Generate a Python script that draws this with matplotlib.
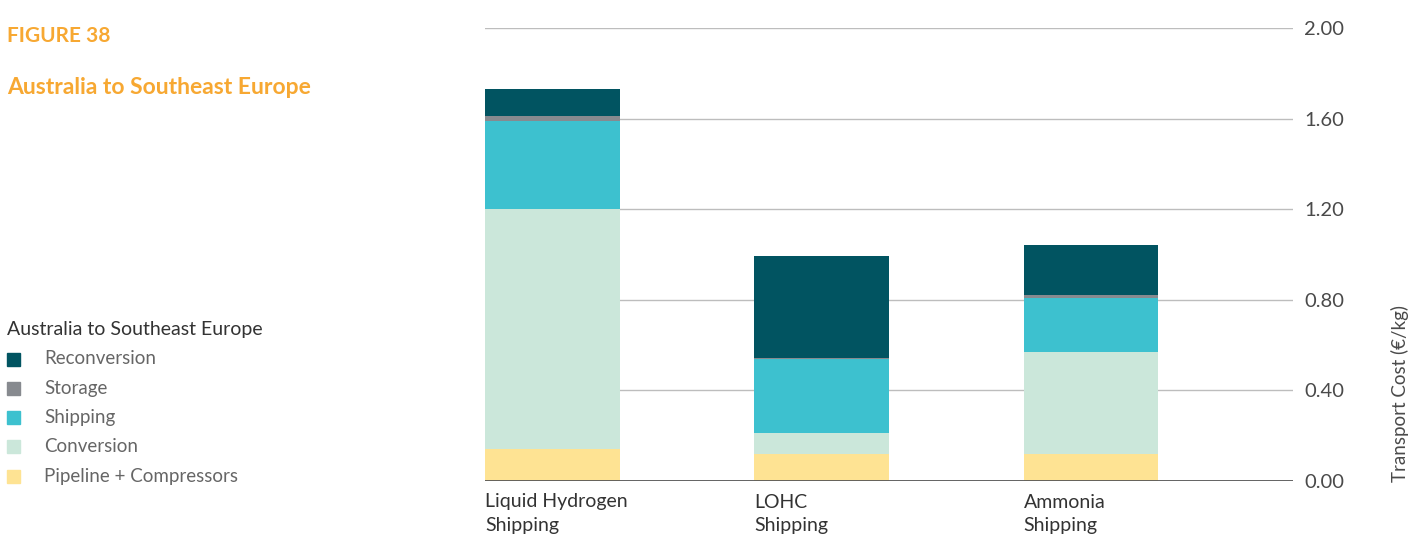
import matplotlib
matplotlib.use("Agg")
import matplotlib.pyplot as plt
from matplotlib.patches import Rectangle
import numpy as np

# transport cost breakdown, EUR per kg H2
routes = ["Liquid Hydrogen\nShipping", "LOHC\nShipping", "Ammonia\nShipping"]
segments = ["Pipeline + Compressors", "Conversion", "Shipping", "Storage", "Reconversion"]
pipeline = [0.14, 0.12, 0.12]
conversion = [1.06, 0.09, 0.45]
shipping = [0.39, 0.33, 0.24]
storage = [0.02, 0.003, 0.01]
reconversion = [0.12, 0.45, 0.22]
yticks = [0.0, 0.4, 0.8, 1.2, 1.6, 2.0]

colors = ["#fee393", "#cbe7da", "#3dc1cf", "#878a8f", "#015461"]
orange = "#f7a832"
txt = "#4a4a4a"

plt.rcParams["font.family"] = ["Lato", "DejaVu Sans"]

W, H = 1424, 536
fig = plt.figure(figsize=(W / 100, H / 100), dpi=100)
ax = fig.add_axes([485 / W, 1 - 481 / H, (1293 - 485) / W, (481 - 28) / H])

x = np.arange(len(routes))
bottom = np.zeros(len(routes))
for vals, col, name in zip([pipeline, conversion, shipping, storage, reconversion], colors, segments):
    ax.bar(x, vals, width=0.5, bottom=bottom, color=col, label=name, zorder=3, linewidth=0)
    bottom += np.array(vals)

ax.set_xlim(-0.25, 2.75)
ax.set_ylim(0, 2.0)
ax.set_yticks(yticks)
ax.set_yticklabels([f"{v:.2f}" for v in yticks], fontsize=14.5, color=txt)
ax.yaxis.tick_right()
ax.tick_params(axis="y", length=0, pad=8)
ax.grid(axis="y", color="#bdbdbd", linewidth=1, zorder=0)
ax.axhline(0, color="#555555", linewidth=2, zorder=4)
for s in ax.spines.values():
    s.set_visible(False)

ax.set_xticks(x - 0.25)
ax.set_xticklabels(routes, fontsize=14, color="#333333", ha="left", linespacing=1.5)
ax.tick_params(axis="x", length=0, pad=9)

fig.text(1400 / W, 1 - 393 / H, "Transport Cost (\u20ac/kg)", rotation=90,
         ha="center", va="center", fontsize=13.5, color=txt)

fig.text(7 / W, 1 - 36 / H, "FIGURE 38", fontsize=15, fontweight="bold",
         color=orange, va="center")
fig.text(7 / W, 1 - 87 / H, "Australia to Southeast Europe", fontsize=16.5,
         fontweight="bold", color=orange, va="center")

# legend, top entry is the top segment of the stack
fig.text(7 / W, 1 - 330 / H, "Australia to Southeast Europe", fontsize=14,
         color="#333333", va="center")
for i, (col, name) in enumerate(zip(colors[::-1], segments[::-1])):
    yc = 359 + i * 29.3
    fig.patches.append(Rectangle((7 / W, 1 - (yc + 6.5) / H), 13 / W, 13 / H,
                                 transform=fig.transFigure, color=col))
    fig.text(44 / W, 1 - yc / H, name, fontsize=13.5, color="#666666", va="center")

fig.savefig("out.png", dpi=100)
